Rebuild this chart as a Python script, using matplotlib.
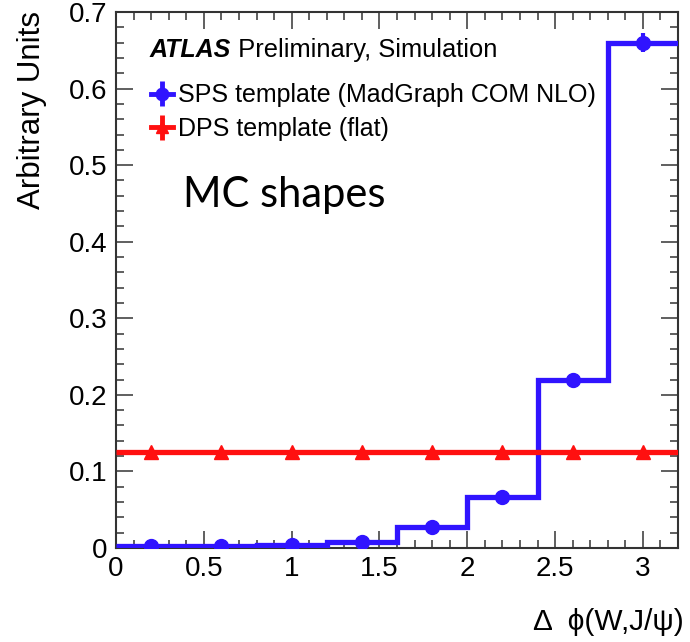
import matplotlib
matplotlib.use("Agg")
import matplotlib.pyplot as plt
from matplotlib.ticker import MultipleLocator
import numpy as np

# Data
bin_edges = [0.0, 0.4, 0.8, 1.2, 1.6, 2.0, 2.4, 2.8, 3.2]
sps_values = [0.002, 0.002, 0.004, 0.008, 0.028, 0.066, 0.219, 0.660]
sps_errors = [0.001, 0.001, 0.001, 0.002, 0.003, 0.004, 0.006, 0.012]
dps_values = [0.125, 0.125, 0.125, 0.125, 0.125, 0.125, 0.125, 0.125]
x_ticks = [0, 0.5, 1, 1.5, 2, 2.5, 3]
x_ticklabels = ["0", "0.5", "1", "1.5", "2", "2.5", "3"]
y_ticks = [0, 0.1, 0.2, 0.3, 0.4, 0.5, 0.6, 0.7]
y_ticklabels = ["0", "0.1", "0.2", "0.3", "0.4", "0.5", "0.6", "0.7"]

BLUE = "#3014ff"
RED = "#ff1010"

plt.rcParams['font.family'] = ['Liberation Sans', 'DejaVu Sans']

fig = plt.figure(figsize=(6.9, 6.42), dpi=100)
ax = fig.add_axes([116/690, 1 - 548/642, 562/690, 536/642])

edges = np.array(bin_edges)
centers = 0.5 * (edges[:-1] + edges[1:])
sps = np.array(sps_values)
dps = np.array(dps_values)

ax.stairs(sps, edges, color=BLUE, linewidth=3.8, baseline=None, zorder=3)
ax.errorbar(centers, sps, yerr=sps_errors, fmt='o', color=BLUE, ms=10,
            elinewidth=3, capsize=0, zorder=4)
ax.stairs(dps, edges, color=RED, linewidth=3.8, baseline=None, zorder=5)
ax.plot(centers, dps, '^', color=RED, ms=10, zorder=6)

ax.set_xlim(0, 3.2)
ax.set_ylim(0, 0.7)
ax.set_xticks(x_ticks)
ax.set_xticklabels(x_ticklabels)
ax.set_yticks(y_ticks)
ax.set_yticklabels(y_ticklabels)
ax.xaxis.set_minor_locator(MultipleLocator(0.1))
ax.yaxis.set_minor_locator(MultipleLocator(0.02))
ax.tick_params(which='both', direction='in', top=True, right=True, width=1.2, color='#444444')
ax.tick_params(which='major', length=12, labelsize=20, pad=6)
ax.tick_params(which='minor', length=6)
for s in ax.spines.values():
    s.set_linewidth(1.5)
    s.set_color('#333333')

# Legend proxies
h_sps = ax.errorbar([], [], yerr=[], fmt='o', color=BLUE, ms=9, elinewidth=3.5, capsize=0, lw=3.5)
h_dps = ax.errorbar([], [], yerr=[], fmt='^', color=RED, ms=9, elinewidth=3.5, capsize=0, lw=3.5)
for h in (h_sps, h_dps):
    h.lines[0].set_linestyle('-')
    h.lines[0].set_linewidth(3.5)
leg = ax.legend([h_sps, h_dps],
                ["SPS template (MadGraph COM NLO)", "DPS template (flat)"],
                loc='upper left', bbox_to_anchor=(0.063, 0.867), frameon=False,
                fontsize=18, handlelength=0.85, handletextpad=0.2,
                labelspacing=0.38, borderaxespad=0, borderpad=0)

t1 = ax.text(0.06, 0.929, "ATLAS", transform=ax.transAxes, fontsize=18,
             fontweight='bold', fontstyle='italic', va='center', ha='left')
ax.annotate(" Preliminary, Simulation", xy=(1, 0.5), xycoords=t1,
            fontsize=18.4, va='center', ha='left')

ax.text(0.119, 0.658, "MC shapes", transform=ax.transAxes, fontsize=30,
        family=['Lato', 'DejaVu Sans'], va='center', ha='left')

fig.text(684/690, 1 - 622/642, "Δ  ϕ(W,J/ψ)", ha='right', va='center', fontsize=21.5,
         family=['Liberation Sans', 'DejaVu Sans'])
fig.text(32/690, 1 - 11/642, "Arbitrary Units", rotation=90, ha='center', va='top',
         fontsize=22.5)

fig.savefig("out.png", dpi=100)
